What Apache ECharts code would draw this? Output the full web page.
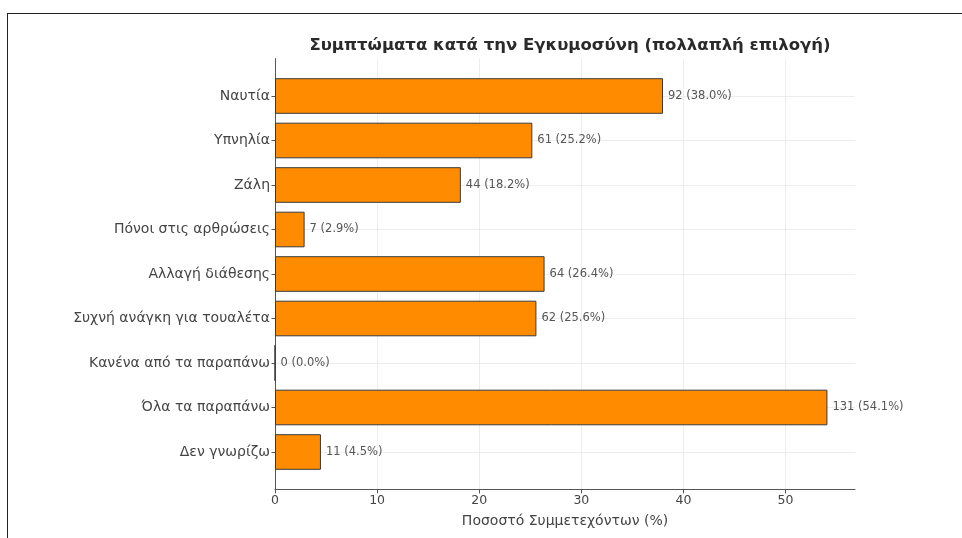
<!DOCTYPE html>
<html>
<head>
<meta charset="utf-8">
<script src="https://cdn.jsdelivr.net/npm/echarts@6/dist/echarts.min.js"></script>
<style>
html,body{margin:0;padding:0;background:#fff;}
#c{width:962px;height:538px;}
#frame{position:absolute;left:7px;top:13px;width:960px;height:540px;border:1px solid #222;box-sizing:border-box;pointer-events:none;}
</style>
</head>
<body>
<div id="c"></div>
<div id="frame"></div>
<script>
const categories = ['Ναυτία','Υπνηλία','Ζάλη','Πόνοι στις αρθρώσεις','Αλλαγή διάθεσης','Συχνή ανάγκη για τουαλέτα','Κανένα από τα παραπάνω','Όλα τα παραπάνω','Δεν γνωρίζω'];
const counts = [92, 61, 44, 7, 64, 62, 0, 131, 11];
const percents = [38.0, 25.2, 18.2, 2.9, 26.4, 25.6, 0.0, 54.1, 4.5];
const xTicks = [0, 10, 20, 30, 40, 50];
const titleText = 'Συμπτώματα κατά την Εγκυμοσύνη (πολλαπλή επιλογή)';
const xTitle = 'Ποσοστό Συμμετεχόντων (%)';

const FONT = 'DejaVu Sans';
const XMAX = 56.8;
const chart = echarts.init(document.getElementById('c'));
const gridLine = {show:true, lineStyle:{color:'#e8e8e8', width:0.8}};
chart.setOption({
  animation:false,
  title:{text:titleText, left:565, top:32, textAlign:'center',
    textStyle:{fontFamily:FONT, fontSize:16.5, fontWeight:'bold', color:'#2a2a2a'}},
  grid:[
    {left:275, right:107, top:58.6, bottom:48.6},
    {left:275, right:107, top:96, bottom:86}
  ],
  xAxis:[
    {gridIndex:0, type:'value', min:0, max:XMAX, interval:10,
     axisLine:{show:true, lineStyle:{color:'#555', width:1}},
     axisTick:{show:true, length:4, customValues:xTicks, lineStyle:{color:'#555'}},
     axisLabel:{customValues:xTicks, fontFamily:FONT, fontSize:12.5, color:'#444', margin:5},
     splitLine:gridLine,
     name:xTitle, nameLocation:'middle', nameGap:25,
     nameTextStyle:{fontFamily:FONT, fontSize:14, color:'#444'}},
    {gridIndex:1, type:'value', min:0, max:XMAX, show:false, splitLine:{show:false}}
  ],
  yAxis:[
    {gridIndex:0, type:'value', min:0, max:1, axisLabel:{show:false}, axisTick:{show:false},
     splitLine:{show:false}, axisLine:{show:true, lineStyle:{color:'#555', width:1}}},
    {gridIndex:1, type:'category', data:categories, inverse:true, boundaryGap:false,
     axisLine:{show:false},
     axisTick:{show:true, length:3.5, lineStyle:{color:'#555'}},
     axisLabel:{fontFamily:FONT, fontSize:14, color:'#444', margin:5},
     splitLine:gridLine}
  ],
  series:[{
    type:'bar', xAxisIndex:1, yAxisIndex:1, data:percents, barWidth:35.6,
    itemStyle:{color:'#FF8C00', borderColor:'#3a3a3a', borderWidth:1},
    label:{show:true, position:'right', distance:5, fontFamily:FONT, fontSize:11.5, color:'#555',
      formatter:p => counts[p.dataIndex] + ' (' + percents[p.dataIndex].toFixed(1) + '%)'}
  }]
});
</script>
</body>
</html>
